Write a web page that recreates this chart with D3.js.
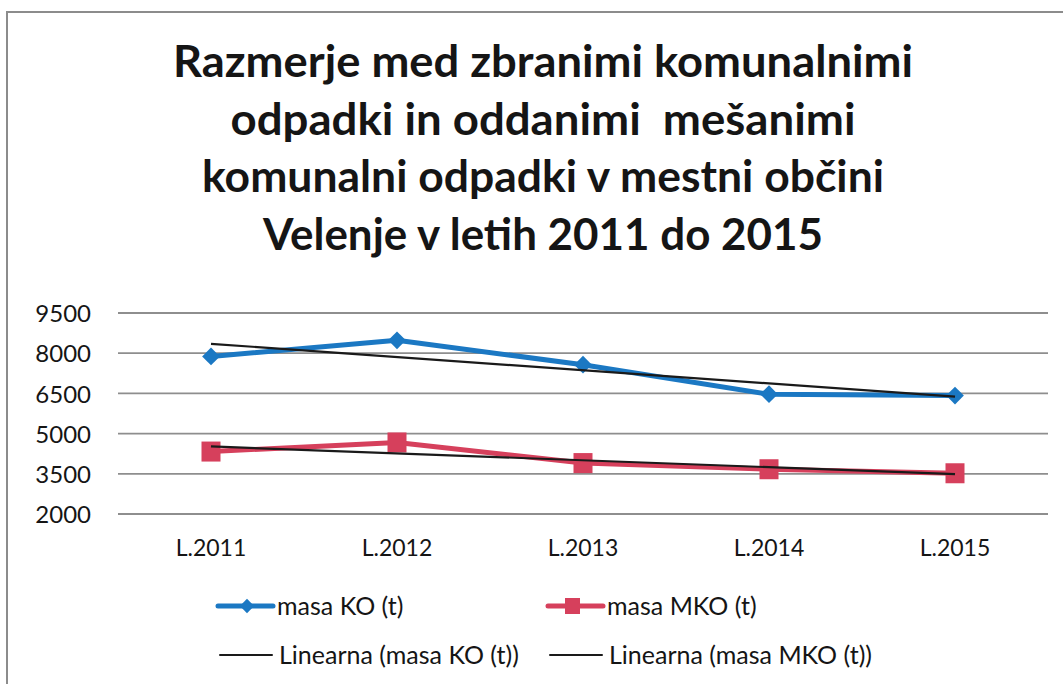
<!DOCTYPE html>
<html>
<head>
<meta charset="utf-8">
<script src="https://cdn.jsdelivr.net/npm/d3@7"></script>
<style>
	body { margin: 0; background: #fff; }
	svg text { font-family: Lato, "Open Sans", sans-serif; fill: #151515; }
</style>
</head>
<body>
<div id="data-viz"></div>
<script>

// values
var years = ["L.2011", "L.2012", "L.2013", "L.2014", "L.2015"]
var masaKO = [7880, 8480, 7570, 6470, 6420]
var masaMKO = [4330, 4670, 3900, 3670, 3520]
// trendline ends (first and last year)
var trendKO = [8350, 6380]
var trendMKO = [4520, 3490]
var yTicks = [2000, 3500, 5000, 6500, 8000, 9500]
var titleLines = [
	"Razmerje med zbranimi komunalnimi",
	"odpadki in oddanimi  mešanimi",
	"komunalni odpadki v mestni občini",
	"Velenje v letih 2011 do 2015"
]
var titleWidths = [740, 625, 682, 560]

var width = 1063, height = 684
var margin = {top: 313, right: 15, bottom: 170, left: 118}

var svg = d3.select("#data-viz").append("svg")
	.attr("width", width)
	.attr("height", height)

// frame of the scanned chart
svg.append("path")
	.attr("d", "M7," + height + "V12H" + width)
	.attr("fill", "none")
	.attr("stroke", "#8c8c8c")
	.attr("stroke-width", 2)

svg.selectAll(".title")
	.data(titleLines)
	.enter().append("text")
	.attr("class", "title")
	.attr("x", 543)
	.attr("y", function(d, i) { return 77 + i * 57.7 })
	.attr("text-anchor", "middle")
	.attr("textLength", function(d, i) { return titleWidths[i] })
	.attr("lengthAdjust", "spacingAndGlyphs")
	.style("font-size", "43px")
	.style("font-weight", "bold")
	.style("white-space", "pre")
	.text(function(d) { return d })

var x = d3.scaleBand()
	.domain(years)
	.range([margin.left, 1048])

var y = d3.scaleLinear()
	.domain([2000, 9500])
	.range([514, 313])

// gridlines
svg.append("g")
	.selectAll("line")
	.data(yTicks)
	.enter().append("line")
	.attr("x1", x.range()[0])
	.attr("x2", x.range()[1])
	.attr("y1", function(d) { return y(d) })
	.attr("y2", function(d) { return y(d) })
	.attr("stroke", "#8e8e8e")
	.attr("stroke-width", 1.8)

var yAxis = d3.axisLeft(y).tickValues(yTicks).tickFormat(d3.format("d")).tickSize(0).tickPadding(0)
var gy = svg.append("g")
	.attr("transform", "translate(91,0)")
	.call(yAxis)
gy.select(".domain").remove()
gy.selectAll("text")
	.attr("dy", "0.36em")
	.style("font-size", "24px")
	.style("font-family", "Lato, sans-serif")
	.attr("fill", "#151515")

var xAxis = d3.axisBottom(x).tickSize(0).tickPadding(0)
var gx = svg.append("g")
	.attr("transform", "translate(0,548)")
	.call(xAxis)
gx.select(".domain").remove()
gx.selectAll("text")
	.attr("dy", "0.36em")
	.style("font-size", "23px")
	.style("font-family", "Lato, sans-serif")
	.attr("fill", "#151515")

function cx(d, i) { return x(years[i]) + x.bandwidth() / 2 }

var line = d3.line()
	.x(cx)
	.y(function(d) { return y(d) })

var blue = "#1b78c3", red = "#d6405c"

svg.append("path")
	.datum(masaKO)
	.attr("fill", "none")
	.attr("stroke", blue)
	.attr("stroke-width", 5)
	.attr("stroke-linejoin", "round")
	.attr("d", line)

svg.append("path")
	.datum(masaMKO)
	.attr("fill", "none")
	.attr("stroke", red)
	.attr("stroke-width", 5)
	.attr("stroke-linejoin", "round")
	.attr("d", line)

svg.selectAll(".sq")
	.data(masaMKO)
	.enter().append("rect")
	.attr("class", "sq")
	.attr("x", function(d, i) { return cx(d, i) - 9.5 })
	.attr("y", function(d) { return y(d) - 10 })
	.attr("width", 19)
	.attr("height", 20)
	.attr("fill", red)

var diamond = d3.symbol().type(d3.symbolDiamond2).size(200)
svg.selectAll(".dia")
	.data(masaKO)
	.enter().append("path")
	.attr("class", "dia")
	.attr("transform", function(d, i) { return "translate(" + cx(d, i) + "," + y(d) + ")" })
	.attr("d", diamond)
	.attr("fill", blue)

// linear trendlines
var ends = [0, years.length - 1]
var trendLine = d3.line()
	.x(function(d, i) { return x(years[ends[i]]) + x.bandwidth() / 2 })
	.y(function(d) { return y(d) })

svg.append("path")
	.datum(trendKO)
	.attr("fill", "none")
	.attr("stroke", "#1a1a1a")
	.attr("stroke-width", 2.2)
	.attr("d", trendLine)

svg.append("path")
	.datum(trendMKO)
	.attr("fill", "none")
	.attr("stroke", "#1a1a1a")
	.attr("stroke-width", 2.2)
	.attr("d", trendLine)

// legend
var legend = [
	{label: "masa KO (t)", x: 218, y: 606, color: blue, w: 5, mark: "diamond"},
	{label: "masa MKO (t)", x: 548, y: 606, color: red, w: 5, mark: "square"},
	{label: "Linearna (masa KO (t))", x: 220, y: 655, color: "#1a1a1a", w: 2, mark: null},
	{label: "Linearna (masa MKO (t))", x: 550, y: 655, color: "#1a1a1a", w: 2, mark: null}
]

var lg = svg.selectAll(".legend")
	.data(legend)
	.enter().append("g")
	.attr("class", "legend")
	.attr("transform", function(d) { return "translate(" + d.x + "," + d.y + ")" })

lg.append("line")
	.attr("x1", 0)
	.attr("x2", function(d) { return d.mark ? 55 : 52 })
	.attr("stroke", function(d) { return d.color })
	.attr("stroke-width", function(d) { return d.w })
	.attr("stroke-linecap", "round")

lg.filter(function(d) { return d.mark == "diamond" })
	.append("path")
	.attr("transform", "translate(29,0)")
	.attr("d", d3.symbol().type(d3.symbolDiamond2).size(130))
	.attr("fill", blue)

lg.filter(function(d) { return d.mark == "square" })
	.append("rect")
	.attr("x", 17)
	.attr("y", -8)
	.attr("width", 15)
	.attr("height", 16)
	.attr("fill", red)

lg.append("text")
	.attr("x", 59)
	.attr("dy", "0.36em")
	.style("font-size", "25px")
	.text(function(d) { return d.label })

</script>
</body>
</html>
